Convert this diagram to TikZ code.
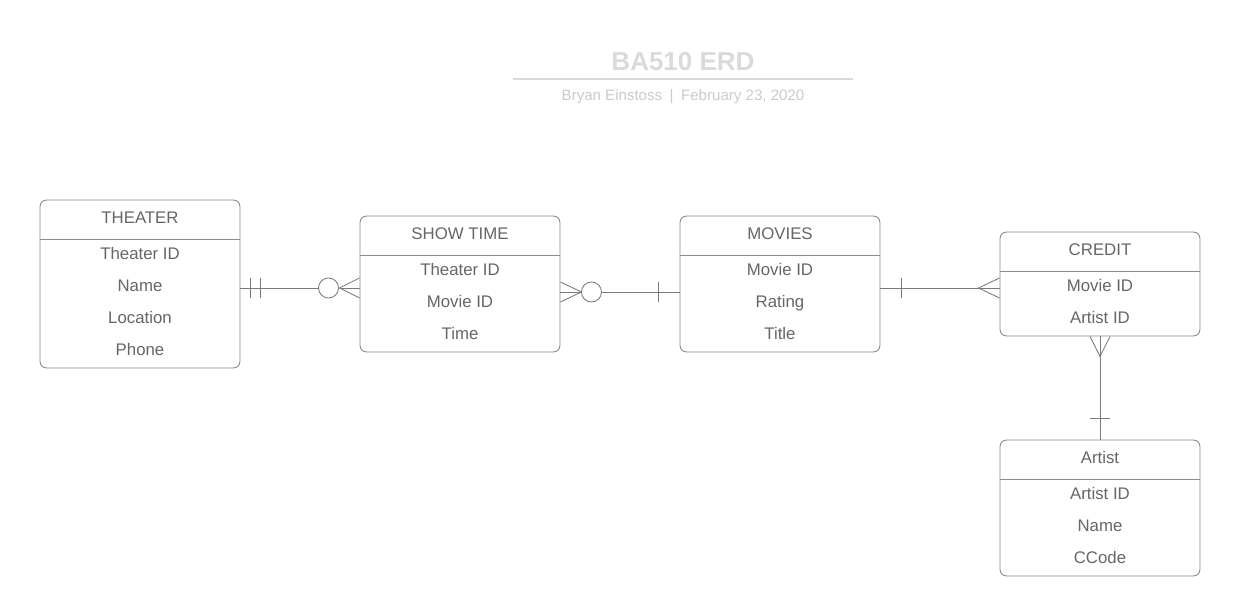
\documentclass[tikz,border=0pt]{standalone}
\usepackage{fontspec}
\setmainfont{Liberation Sans}
\usetikzlibrary{calc}
\definecolor{boxgray}{HTML}{8A8A8A}
\definecolor{txtgray}{HTML}{666666}
\definecolor{linegray}{HTML}{7A7A7A}
\definecolor{titlegray}{HTML}{DADADA}
\definecolor{subgray}{HTML}{CACACA}
\tikzset{
  entity/.style={draw=boxgray, line width=0.7pt, rounded corners=5pt, minimum width=150pt, inner sep=0pt, fill=white},
  hdr/.style={draw=boxgray, line width=0.7pt},
  fld/.style={anchor=base, text=txtgray, font=\fontsize{12.6}{15}\selectfont, inner sep=0pt},
  conn/.style={draw=linegray, line width=0.65pt},
}
\begin{document}
\begin{tikzpicture}[x=0.75pt,y=-0.75pt]
\useasboundingbox (0,0) rectangle (1240,616);
% title
\node[anchor=base, text=titlegray, font=\fontsize{19.5}{22}\selectfont\bfseries, inner sep=0pt] (title) at (683,70.5) {BA510 ERD};
\coordinate (tl) at (513,79);
\coordinate (tr) at (853,79);
\draw[draw=titlegray, line width=1.2pt] (tl) -- (tr);
\node[anchor=base, text=subgray, font=\fontsize{11.3}{13}\selectfont, inner sep=0pt] (sub) at (683,100.5) {Bryan Einstoss\hspace{0.5em}|\hspace{0.5em}February 23, 2020};

% THEATER
\node[entity, minimum height=126pt] (theater) at (140,284) {};
\draw[hdr] ($(theater.north west)+(0,40)$) coordinate (thl) -- ($(theater.north east)+(0,40)$) coordinate (thr);
\node[fld] (theatert) at (140,224) {THEATER};
\node[fld] (theater1) at (140,260) {Theater ID};
\node[fld] (theater2) at (140,292) {Name};
\node[fld] (theater3) at (140,324) {Location};
\node[fld] (theater4) at (140,356) {Phone};

% SHOW TIME
\node[entity, minimum height=102pt] (showtime) at (460,284) {};
\draw[hdr] ($(showtime.north west)+(0,40)$) coordinate (shl) -- ($(showtime.north east)+(0,40)$) coordinate (shr);
\node[fld] (showtimet) at (460,240) {SHOW TIME};
\node[fld] (showtime1) at (460,276) {Theater ID};
\node[fld] (showtime2) at (460,308) {Movie ID};
\node[fld] (showtime3) at (460,340) {Time};

% MOVIES
\node[entity, minimum height=102pt] (movies) at (780,284) {};
\draw[hdr] ($(movies.north west)+(0,40)$) coordinate (mhl) -- ($(movies.north east)+(0,40)$) coordinate (mhr);
\node[fld] (moviest) at (780,240) {MOVIES};
\node[fld] (movies1) at (780,276) {Movie ID};
\node[fld] (movies2) at (780,308) {Rating};
\node[fld] (movies3) at (780,340) {Title};

% CREDIT
\node[entity, minimum height=78pt] (credit) at (1100,284) {};
\draw[hdr] ($(credit.north west)+(0,40)$) coordinate (chl) -- ($(credit.north east)+(0,40)$) coordinate (chr);
\node[fld] (creditt) at (1100,256) {CREDIT};
\node[fld] (credit1) at (1100,292) {Movie ID};
\node[fld] (credit2) at (1100,324) {Artist ID};

% Artist
\node[entity, minimum height=102pt] (artist) at (1100,508) {};
\draw[hdr] ($(artist.north west)+(0,40)$) coordinate (ahl) -- ($(artist.north east)+(0,40)$) coordinate (ahr);
\node[fld] (artistt) at (1100,464) {Artist};
\node[fld] (artist1) at (1100,500) {Artist ID};
\node[fld] (artist2) at (1100,532) {Name};
\node[fld] (artist3) at (1100,564) {CCode};

% THEATER -- SHOW TIME (one and only one -- zero or many)
\coordinate (c1a) at ($(theater.east)+(0,4)$);
\coordinate (c1b) at ($(showtime.west)+(0,4)$);
\coordinate (c1o) at ($(c1b)+(-31,0)$);
\coordinate (c1f) at ($(c1b)+(-20,0)$);
\draw[conn] (c1a) -- ($(c1o)+(-10,0)$);
\draw[conn] ($(c1a)+(10,-10)$) -- ++(0,20);
\draw[conn] ($(c1a)+(20,-10)$) -- ++(0,20);
\draw[conn] (c1o) circle[radius=7.5pt];
\draw[conn] ($(c1b)+(0,-10)$) -- (c1f) -- ($(c1b)+(0,10)$);
\draw[conn] (c1f) -- (c1b);

% SHOW TIME -- MOVIES (zero or many -- one)
\coordinate (c2a) at ($(showtime.east)+(0,8)$);
\coordinate (c2b) at ($(movies.west)+(0,8)$);
\coordinate (c2f) at ($(c2a)+(21,0)$);
\coordinate (c2o) at ($(c2a)+(31,0)$);
\draw[conn] ($(c2a)+(0,-10)$) -- (c2f) -- ($(c2a)+(0,10)$);
\draw[conn] (c2a) -- (c2f);
\draw[conn] (c2o) circle[radius=7.5pt];
\draw[conn] ($(c2o)+(10,0)$) -- (c2b);
\draw[conn] ($(c2b)+(-21,-10)$) -- ++(0,20);

% MOVIES -- CREDIT (one -- many)
\coordinate (c3a) at ($(movies.east)+(0,4)$);
\coordinate (c3b) at ($(credit.west)+(0,4)$);
\coordinate (c3f) at ($(c3b)+(-21,0)$);
\draw[conn] (c3a) -- (c3b);
\draw[conn] ($(c3a)+(21,-10)$) -- ++(0,20);
\draw[conn] ($(c3b)+(0,-10)$) -- (c3f) -- ($(c3b)+(0,10)$);

% CREDIT -- Artist (many -- one)
\coordinate (c4f) at ($(credit.south)+(0,20)$);
\draw[conn] (credit.south) -- (artist.north);
\draw[conn] ($(credit.south)+(-10,0)$) -- (c4f) -- ($(credit.south)+(10,0)$);
\draw[conn] ($(artist.north)+(-10,-21)$) -- ++(20,0);
\end{tikzpicture}
\end{document}
